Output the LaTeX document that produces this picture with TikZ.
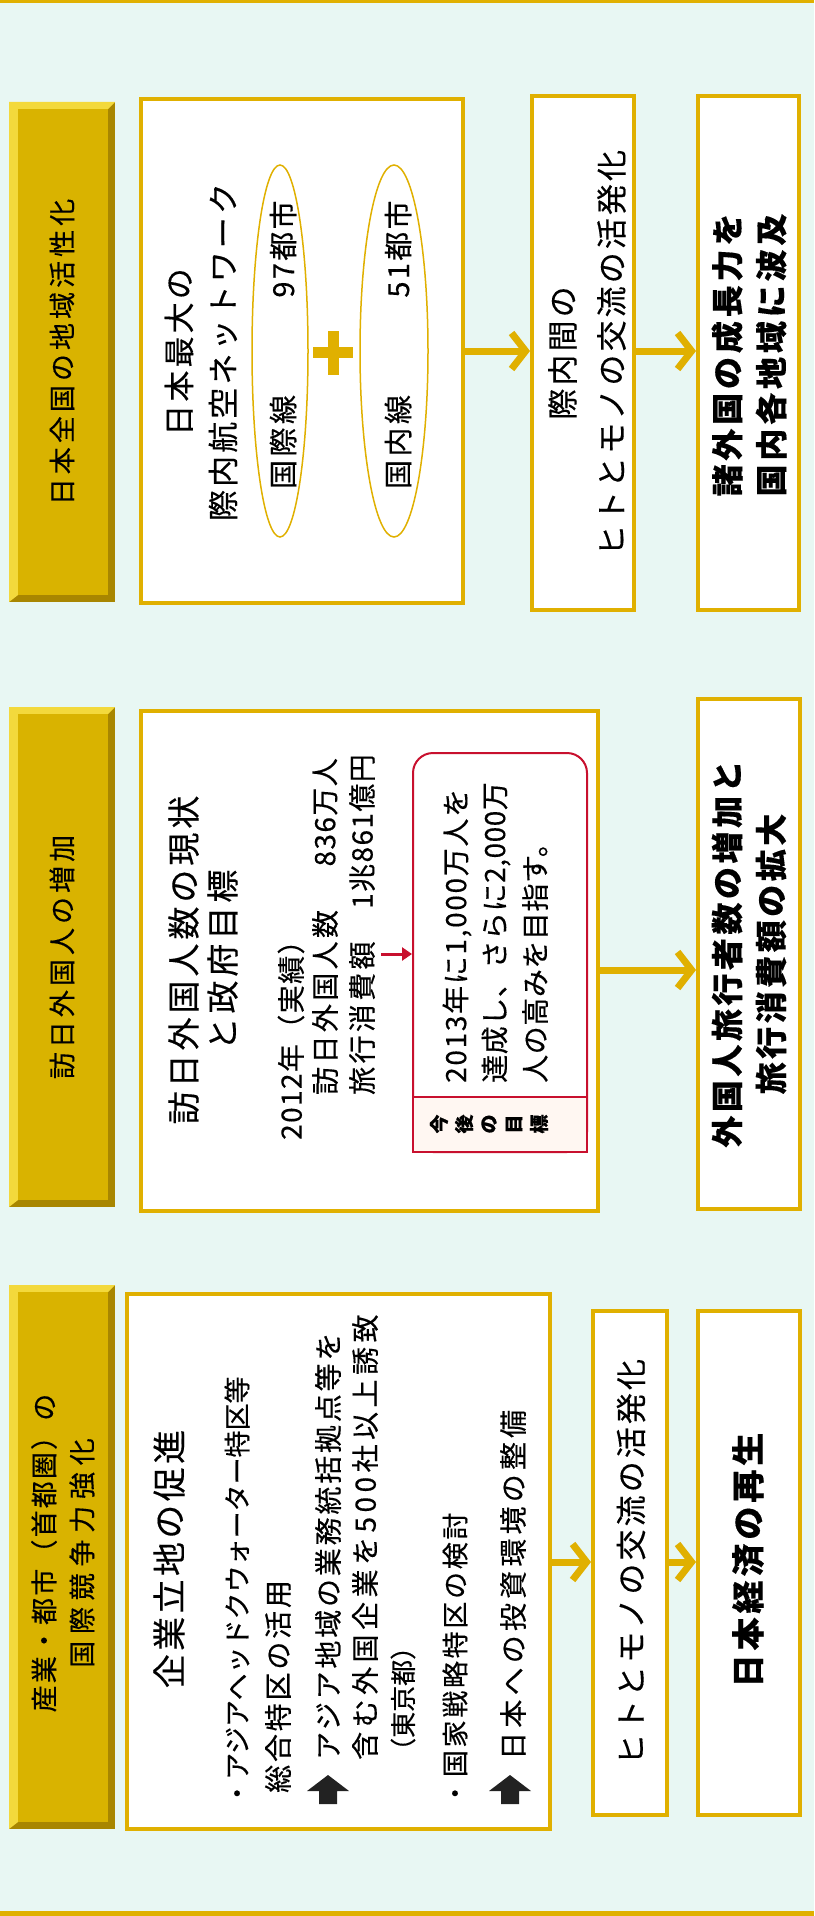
\documentclass[tikz,border=0pt]{standalone}
\usepackage{fontspec}
\setmainfont{Noto Sans CJK JP}[FakeBold=0.35]
\usetikzlibrary{arrows.meta,shapes.geometric}
\definecolor{bg}{HTML}{E8F7F3}
\definecolor{gold}{HTML}{E0B000}
\definecolor{hgold}{HTML}{D9B300}
\definecolor{hlight}{HTML}{F3D93C}
\definecolor{hdark}{HTML}{A88600}
\definecolor{rd}{HTML}{C8102E}
\definecolor{pinkbg}{HTML}{FFF7F2}
\definecolor{blk}{HTML}{222222}
\newcommand{\LS}[1]{\addfontfeatures{LetterSpace=#1}}
\newcommand{\FS}[2]{\fontsize{#1}{#2}\selectfont}
\newcommand{\headbar}[4]{%
  \fill[hdark] (#1,#2) rectangle (#3,#4);
  \fill[hlight] (#1,#2) -- (#3,#2) -- ({#3-7},{#2+7}) -- ({#1+9},{#2+7}) -- ({#1+9},{#4-7}) -- (#1,#4) -- cycle;
  \fill[hgold] ({#1+9},{#2+7}) rectangle ({#3-7},{#4-7});
}
\newcommand{\blockup}[1]{%
  \fill[blk] (#1,1775) -- ({#1+21},1791) -- ({#1+9},1791) -- ({#1+9},1804) -- ({#1-9},1804) -- ({#1-9},1791) -- ({#1-21},1791) -- cycle;
}
\begin{document}
\begin{tikzpicture}[x=1pt,y=-1pt,
  box/.style={draw=gold, line width=4pt, fill=white, inner sep=0pt},
  rt/.style={rotate=90, inner sep=0pt, align=center, text=black},
  garrow/.style={draw=gold, line width=7pt, -{Straight Barb[length=14pt,width=36pt]}},
  ell/.style={draw=gold, line width=1.5pt, ellipse, inner sep=0pt},
]
\useasboundingbox (0,0) rectangle (814,1916);
\fill[bg] (0,0) rectangle (814,1916);
\fill[gold] (0,0) rectangle (814,3);
\fill[gold] (0,1911) rectangle (814,1916);

% ---------------- top section ----------------
\headbar{9}{102}{115}{602}
\node[rt, font=\FS{27}{31}\LS{15}] (h1) at (62,352) {日本全国の地域活性化};

\node[box, minimum width=322pt, minimum height=504pt] (b1) at (302,351) {};
\node[rt, font=\FS{31}{44}\LS{10}] (b1t) at (201,352) {日本最大の\\際内航空ネットワーク};
\node[ell, minimum width=56pt, minimum height=372pt] (e1) at (280,351) {};
\node[rt, font=\FS{29}{29}\LS{12}] (e1a) at (283,442) {国際線};
\node[rt, font=\FS{29}{29}\LS{8}] (e1b) at (283,249) {97都市};
\fill[gold] (313,347) rectangle (353,358);
\fill[gold] (327.5,331) rectangle (338.5,375);
\node[ell, minimum width=68pt, minimum height=372pt] (e2) at (394,351) {};
\node[rt, font=\FS{29}{29}\LS{12}] (e2a) at (398,442) {国内線};
\node[rt, font=\FS{29}{29}\LS{8}] (e2b) at (398,249) {51都市};

\node[box, minimum width=102pt, minimum height=514pt] (b2) at (583,353) {};
\node[rt, font=\FS{31}{49}\LS{10}] (b2t) at (587,353) {際内間の\\ヒトとモノの交流の活発化};
\node[box, minimum width=101pt, minimum height=514pt] (b3) at (748.5,353) {};
\node[rt, font=\FS{32}{44}\bfseries\LS{12}] (b3t) at (749,355) {諸外国の成長力を\\国内各地域に波及};

\coordinate (ta) at (0,351);
\draw[garrow] (b1.east |- ta) -- (b2.west |- ta);
\draw[garrow] (b2.east |- ta) -- (b3.west |- ta);

% ---------------- middle section ----------------
\headbar{9}{707}{115}{1207}
\node[rt, font=\FS{27}{31}\LS{15}] (h2) at (62,957) {訪日外国人の増加};

\node[box, minimum width=457pt, minimum height=500pt] (m1) at (369.5,961) {};
\node[rt, font=\FS{33}{39}\LS{12}] (m1t) at (203,960) {訪日外国人数の現状\\と政府目標};
\node[rt, anchor=west, font=\FS{28}{28}\LS{5}] (y12) at (291,1140) {2012年（実績）};
\node[rt, anchor=west, font=\FS{28}{28}\LS{12}] (v1) at (325,1095) {訪日外国人数};
\node[rt, anchor=east, font=\FS{28}{28}\LS{5}] (v2) at (325,758) {836万人};
\node[rt, anchor=west, font=\FS{28}{28}\LS{12}] (c1) at (362,1095) {旅行消費額};
\node[rt, anchor=east, font=\FS{28}{28}\LS{5}] (c2) at (362,754) {1兆861億円};

\node[draw=rd, line width=2pt, fill=white, rounded corners=20pt, minimum width=174pt, minimum height=399pt, inner sep=0pt] (rb) at (500,952.5) {};
\node[draw=rd, line width=2pt, fill=pinkbg, minimum width=174pt, minimum height=55pt, inner sep=0pt] (rbl) at (500,1124.5) {};
\coordinate (ra) at (381,954);
\draw[rd, line width=3pt, -{Triangle[length=10pt,width=13pt]}] (ra) -- (ra -| rb.west);
\node[rt, anchor=west, font=\FS{28}{28}\LS{6}] (r1) at (457,1083) {2013年に1,000万人を};
\node[rt, anchor=west, font=\FS{28}{28}\LS{2}] (r2) at (496,1083) {達成し、さらに2,000万};
\node[rt, anchor=west, font=\FS{28}{28}\LS{2}] (r3) at (535,1083) {人の高みを目指す。};
\node[rt, font=\FS{19}{19}\bfseries] (k1) at (439,1124) {今};
\node[rt, font=\FS{19}{19}\bfseries] (k2) at (464,1124) {後};
\node[rt, font=\FS{19}{19}\bfseries] (k3) at (489,1124) {の};
\node[rt, font=\FS{19}{19}\bfseries] (k4) at (514,1124) {目};
\node[rt, font=\FS{19}{19}\bfseries] (k5) at (539,1124) {標};

\node[box, minimum width=102pt, minimum height=510pt] (m3) at (749,954) {};
\node[rt, font=\FS{32}{44}\bfseries\LS{11}] (m3t) at (749,954) {外国人旅行者数の増加と\\旅行消費額の拡大};
\coordinate (ma) at (0,970);
\draw[garrow] (m1.east |- ma) -- (m3.west |- ma);

% ---------------- bottom section ----------------
\headbar{9}{1285}{115}{1829}
\node[rt, font=\FS{27}{27}\LS{8}] (h3a) at (44,1553) {産業・都市（首都圏）の};
\node[rt, font=\FS{27}{27}\LS{25}] (h3b) at (82,1553) {国際競争力強化};

\node[box, minimum width=423pt, minimum height=535pt] (s1) at (338.5,1561.5) {};
\node[rt, font=\FS{34}{34}\LS{10}] (s1t) at (169,1559) {企業立地の促進};
\node[rt, anchor=west, font=\FS{27}{27}] (l1) at (237,1807) {・アジアヘッドクウォーター特区等};
\node[rt, anchor=west, font=\FS{28}{28}\LS{10}] (l2) at (278,1793) {総合特区の活用};
\blockup{328}
\node[rt, anchor=west, font=\FS{28}{28}\LS{10}] (l3) at (328,1760) {アジア地域の業務統括拠点等を};
\node[rt, anchor=west, font=\FS{28}{28}\LS{16}] (l4) at (365,1760) {含む外国企業を500社以上誘致};
\node[rt, anchor=west, font=\FS{26}{26}] (l5) at (403,1764) {（東京都）};
\node[rt, anchor=west, font=\FS{27}{27}\LS{10}] (l6) at (455,1807) {・国家戦略特区の検討};
\blockup{510}
\node[rt, anchor=west, font=\FS{28}{28}\LS{15}] (l7) at (513,1760) {日本への投資環境の整備};

\node[box, minimum width=74pt, minimum height=504pt] (s2) at (630,1563) {};
\node[rt, font=\FS{31}{31}\LS{10}] (s2t) at (631,1562) {ヒトとモノの交流の活発化};
\node[box, minimum width=102pt, minimum height=504pt] (s3) at (749,1563) {};
\node[rt, font=\FS{33}{33}\bfseries\LS{12}] (s3t) at (748,1560) {日本経済の再生};
\coordinate (sa) at (0,1562);
\draw[garrow] (s1.east |- sa) -- (s2.west |- sa);
\draw[garrow] (s2.east |- sa) -- (s3.west |- sa);
\end{tikzpicture}
\end{document}
